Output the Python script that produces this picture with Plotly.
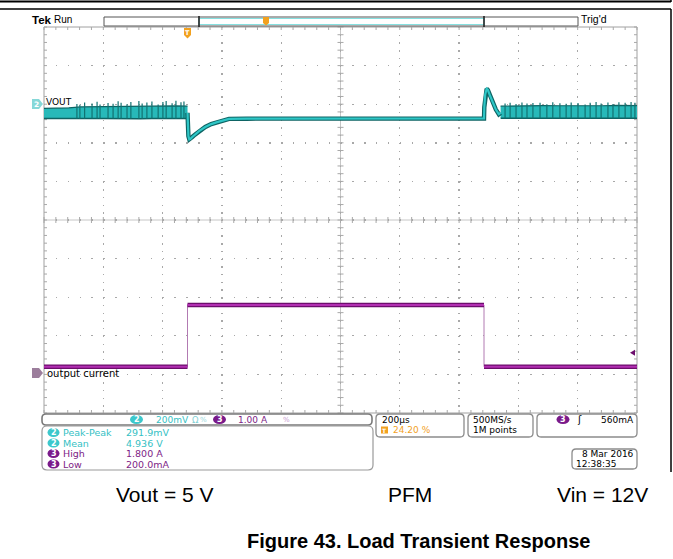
import numpy as np
import plotly.graph_objects as go

# ---------------- acquisition settings ----------------
# Horizontal 200 us/div, trigger at 24.2 % of the 10-division record
time_range_us = [-484, 1516]
# CH2 (VOUT) 200 mV/div, CH3 (output current) 1 A/div, 10 divisions each
vout_range_v = [3.4, 5.4]
iout_range_a = [-1.0, 9.0]
trigger_level_a = 0.56

# ---------------- CH2 : VOUT ----------------
# light-load PFM ripple band before the load step (envelope, V)
band_pre_t = [-484, -440, -400, -360, -320, -280, -240, -200, -160, -120, -80, -40, 0]
band_pre_hi = [4.978, 4.979, 4.981, 4.986, 4.987, 4.988, 4.986, 4.989, 4.988, 4.990, 4.989, 4.991, 4.990]
band_pre_lo = [4.926, 4.925, 4.926, 4.925, 4.926, 4.926, 4.925, 4.926, 4.925, 4.926, 4.926, 4.925, 4.926]
spike_pre_t = [-373, -363, -347, -322, -305, -295, -268, -251, -234, -224, -204, -191,
               -164, -153, -137, -120, -99, -83, -72, -52, -39, -22, -12]
spike_pre_v = [5.001, 4.997, 5.009, 5.004, 5.013, 4.999, 5.006, 5.002, 5.015, 5.008, 5.000, 5.011,
               5.017, 5.003, 5.009, 5.014, 4.998, 5.012, 5.016, 5.005, 5.018, 5.010, 5.014]

# heavy-load section with undershoot / overshoot (V)
load_t = [0, 1, 3, 6, 10, 16, 25, 40, 60, 80, 100, 120, 130, 140, 200, 400, 600, 800,
          1000, 1001, 1004, 1009, 1013, 1020, 1030, 1040, 1050, 1056]
load_v = [4.955, 4.880, 4.835, 4.818, 4.821, 4.830, 4.842, 4.862, 4.882, 4.897, 4.907, 4.914,
          4.919, 4.924, 4.925, 4.925, 4.926, 4.926, 4.926, 4.985, 5.050, 5.080, 5.074, 5.045,
          5.005, 4.972, 4.948, 4.955]

# light-load ripple band after the load release (envelope, V)
band_post_t = [1056, 1100, 1150, 1200, 1250, 1300, 1350, 1400, 1450, 1516]
band_post_hi = [4.990, 4.992, 4.991, 4.993, 4.992, 4.991, 4.993, 4.992, 4.994, 4.993]
band_post_lo = [4.927, 4.927, 4.926, 4.927, 4.926, 4.927, 4.926, 4.927, 4.926, 4.927]
spike_post_t = [1071, 1088, 1108, 1128, 1145, 1165, 1189, 1212, 1232, 1256, 1277, 1294,
                1317, 1341, 1358, 1378, 1395, 1418, 1435, 1455, 1476, 1496, 1509]
spike_post_v = [5.003, 5.007, 5.001, 5.009, 5.004, 5.006, 5.008, 5.000, 5.010, 5.005, 5.002, 5.009,
                5.006, 4.999, 5.008, 5.011, 5.004, 5.009, 5.001, 5.010, 5.007, 5.011, 5.008]

# ---------------- CH3 : output current ----------------
cur_t = [-484, 0, 0, 1000, 1000, 1516]
cur_i = [0.2, 0.2, 1.8, 1.8, 0.2, 0.2]

# ---------------- readouts ----------------
meas_channels = [2, 2, 3, 3]
meas_labels = ["Peak-Peak", "Mean", "High", "Low"]
meas_values = ["291.9mV", "4.936 V", "1.800 A", "200.0mA"]
conditions = ["Vout = 5 V", "PFM", "Vin = 12V"]
caption = "Figure 43. Load Transient Response"

# ---------------- page geometry (px) ----------------
FW, FH = 673, 559
L, T, R, B = 44, 27, 637, 413
W, H = R - L, B - T
CX, CY = (L + R) / 2, (T + B) / 2

TEAL = "#2ec6c6"
TEAL_DK = "#0e6464"
TEAL_TXT = "#35bfc4"
PURP = "#b22fb2"
PURP_DK = "#6d0e6d"
PURP_TXT = "#7d1d86"
ORANGE = "#f2a11f"
SCOPE_FONT = "DejaVu Sans"


def px(x):
    return (x - L) / W


def py(y):
    return (B - y) / H


fig = go.Figure()

# ripple bands
for bt, blo, bhi in [(band_pre_t, band_pre_lo, band_pre_hi), (band_post_t, band_post_lo, band_post_hi)]:
    fig.add_trace(go.Scatter(x=bt, y=blo, mode="lines", line=dict(color=TEAL_DK, width=1.4),
                             yaxis="y", hoverinfo="skip"))
    fig.add_trace(go.Scatter(x=bt, y=bhi, mode="lines", line=dict(color=TEAL_DK, width=1.2),
                             fill="tonexty", fillcolor="#27b9b9", yaxis="y", hoverinfo="skip"))

# ripple bursts: dark streaks through the band up to each spike
for st, sv, bt, blo in [(spike_pre_t, spike_pre_v, band_pre_t, band_pre_lo),
                        (spike_post_t, spike_post_v, band_post_t, band_post_lo)]:
    base = np.interp(st, bt, blo)
    xs, ys = [], []
    for t, v, b in zip(st, sv, base):
        xs += [t, t, None]
        ys += [b, v, None]
    fig.add_trace(go.Scatter(x=xs, y=ys, mode="lines", line=dict(color="#127272", width=1.2),
                             yaxis="y", hoverinfo="skip"))

# heavy-load part of VOUT
fig.add_trace(go.Scatter(x=load_t, y=load_v, mode="lines", line=dict(color=TEAL_DK, width=4.4),
                         yaxis="y", hoverinfo="skip"))
fig.add_trace(go.Scatter(x=load_t, y=load_v, mode="lines", line=dict(color=TEAL, width=2.2),
                         yaxis="y", hoverinfo="skip"))

# output current: thin edges, bold levels
fig.add_trace(go.Scatter(x=cur_t, y=cur_i, mode="lines", line=dict(color="#b27ab2", width=1),
                         yaxis="y2", hoverinfo="skip"))
lx, ly = [], []
for i in range(len(cur_t) - 1):
    if cur_i[i] == cur_i[i + 1]:
        lx += [cur_t[i], cur_t[i + 1], None]
        ly += [cur_i[i], cur_i[i + 1], None]
fig.add_trace(go.Scatter(x=lx, y=ly, mode="lines", line=dict(color=PURP_DK, width=4.5),
                         yaxis="y2", hoverinfo="skip"))
fig.add_trace(go.Scatter(x=lx, y=ly, mode="lines", line=dict(color=PURP, width=2),
                         yaxis="y2", hoverinfo="skip"))

shapes = []
annots = []


def seg(x0, y0, x1, y1, color, width=1, dash=None, layer="above"):
    shapes.append(dict(type="line", xref="paper", yref="paper", x0=px(x0), y0=py(y0),
                       x1=px(x1), y1=py(y1), layer=layer,
                       line=dict(color=color, width=width, dash=dash)))


def poly(points, fill, line="rgba(0,0,0,0)", width=0):
    d = "M" + " L".join(f"{px(x)},{py(y)}" for x, y in points) + " Z"
    shapes.append(dict(type="path", xref="paper", yref="paper", path=d, fillcolor=fill,
                       line=dict(color=line, width=width)))


def rbox(x0, y0, x1, y1, r=4, color="#8c8c8c", width=1.3, fill="white"):
    pts = [f"M{px(x0 + r)},{py(y0)}", f"L{px(x1 - r)},{py(y0)}", f"Q{px(x1)},{py(y0)} {px(x1)},{py(y0 + r)}",
           f"L{px(x1)},{py(y1 - r)}", f"Q{px(x1)},{py(y1)} {px(x1 - r)},{py(y1)}",
           f"L{px(x0 + r)},{py(y1)}", f"Q{px(x0)},{py(y1)} {px(x0)},{py(y1 - r)}",
           f"L{px(x0)},{py(y0 + r)}", f"Q{px(x0)},{py(y0)} {px(x0 + r)},{py(y0)} Z"]
    shapes.append(dict(type="path", xref="paper", yref="paper", path=" ".join(pts),
                       fillcolor=fill, line=dict(color=color, width=width), layer="below"))


def txt(x, y, s, size, color, anchor="left", bold=False, family=SCOPE_FONT):
    if bold:
        s = f"<b>{s}</b>"
    annots.append(dict(x=px(x), y=py(y), xref="paper", yref="paper", text=s, showarrow=False,
                       xanchor=anchor, yanchor="middle", borderpad=0,
                       font=dict(family=family, size=size, color=color)))


def pill(cx, cy, num, color, w=13, h=9):
    shapes.append(dict(type="circle", xref="paper", yref="paper", x0=px(cx - w / 2), x1=px(cx + w / 2),
                       y0=py(cy + h / 2), y1=py(cy - h / 2), fillcolor=color, line=dict(width=0)))
    txt(cx, cy, str(num), 8, "white", anchor="center", bold=True)


# ---- graticule ----
GRID = "#a8a8a8"
shapes.append(dict(type="rect", xref="paper", yref="paper", x0=0, y0=0, x1=1, y1=1,
                   line=dict(color="#a0a0a0", width=1), layer="below"))
seg(L, CY, R, CY, "#c6c6c6", 1, layer="below")
seg(CX, T, CX, B, "#c6c6c6", 1, layer="below")
tick_d = []
for k in range(51):
    x = L + k * W / 50
    tick_d.append(((x, T), (x, T + 3)))
    tick_d.append(((x, B), (x, B - 3)))
    tick_d.append(((x, CY - 3), (x, CY + 3)))
    y = T + k * H / 50
    tick_d.append(((L, y), (L + 3, y)))
    tick_d.append(((R, y), (R - 3, y)))
    tick_d.append(((CX - 3, y), (CX + 3, y)))
path = " ".join(f"M{px(a[0])},{py(a[1])} L{px(b[0])},{py(b[1])}" for a, b in tick_d)
shapes.append(dict(type="path", xref="paper", yref="paper", path=path, layer="below",
                   line=dict(color=GRID, width=1)))

# ---- page frame ----
seg(0, 1.5, 671, 1.5, "black", 2)
seg(671, 0, 671, 2, "black", 1.5)
seg(0, 9, 671, 9, "black", 1.5)
seg(671, 9, 671, 472, "black", 1.5)

# ---- header: Tek Run / record view / Trig'd ----
txt(31, 20, "Tek", 11.5, "black", bold=True, family="Liberation Sans")
txt(53, 20, "Run", 10, "black", family="Liberation Sans")
shapes.append(dict(type="rect", xref="paper", yref="paper", x0=px(104), x1=px(578), y0=py(26), y1=py(17),
                   fillcolor="white", line=dict(color="#555555", width=1)))
shapes.append(dict(type="rect", xref="paper", yref="paper", x0=px(199), x1=px(484), y0=py(24.5), y1=py(18.5),
                   line=dict(color="#86e0e0", width=1.2)))
seg(199, 16, 199, 27, "#222222", 1.6)
seg(484, 16, 484, 27, "#222222", 1.6)
poly([(263, 17), (269, 17), (269, 23), (266, 25.5), (263, 23)], ORANGE)
txt(580, 19.5, "Trig'd", 10.5, "black", family="Liberation Sans")

# trigger position marker
poly([(184, 28), (191, 28), (191, 35), (187.5, 38.5), (184, 35)], ORANGE)
txt(187.5, 32.5, "T", 6.5, "white", anchor="center", bold=True)

# channel markers
poly([(32, 99), (39, 99), (43, 104), (39, 109), (32, 109)], "#86d8d8")
txt(36, 104, "2", 7.5, "white", anchor="center", bold=True)
txt(45, 102, "VOUT", 9, "black", family=SCOPE_FONT)
poly([(32, 368), (39, 368), (43, 373), (39, 378), (32, 378)], "#9c7e9c")
txt(46, 373.5, "output current", 10, "black")
y_trig = B - (trigger_level_a - iout_range_a[0]) / (iout_range_a[1] - iout_range_a[0]) * H
poly([(630, y_trig), (635, y_trig - 3), (635, y_trig + 3)], PURP_DK)

# ---- lower readout panel ----
PF = 9
rbox(42, 414, 372, 425, r=4, color="#7a7a7a", width=1.6)
pill(136.5, 419.5, 2, "#3cc8cc")
txt(155, 419.5, "200mV", PF, TEAL_TXT)
txt(191, 419.5, "Ω", 8.5, "#7fd0d4")
txt(199, 419.5, "%", 7, "#9ad8dc")
pill(219.5, 419.5, 3, "#7a1a8a")
txt(237, 419.5, "1.00 A", PF, PURP_TXT)
txt(282, 419.5, "%", 7, "#c79ad0")

rbox(42, 426, 373, 470, r=5, color="#9a9a9a", width=1.2)
for i, (ch, lab, val) in enumerate(zip(meas_channels, meas_labels, meas_values)):
    yy = 432.5 + i * 10.5
    col = TEAL_TXT if ch == 2 else PURP_TXT
    pill(53.5, yy, ch, "#3cc8cc" if ch == 2 else "#7a1a8a", w=12, h=9)
    txt(62, yy, lab, PF + 0.5, col)
    txt(125, yy, val, PF + 0.5, col)

rbox(376, 414, 464, 437, r=4)
txt(381, 419.5, "200µs", PF, "black")
shapes.append(dict(type="rect", xref="paper", yref="paper", x0=px(381), x1=px(388), y0=py(433.5),
                   y1=py(426.5), fillcolor=ORANGE, line=dict(width=0)))
txt(384.5, 430, "T", 6, "white", anchor="center", bold=True)
txt(392, 430, "24.20 %", PF, ORANGE)

rbox(468, 414, 533, 437, r=4)
txt(472, 419.5, "500MS/s", PF, "black")
txt(472, 430, "1M points", PF, "black")

rbox(537, 414, 637, 437, r=4)
pill(563, 419.5, 3, "#7a1a8a")
txt(579, 419.5, "ʃ", 10, "black", anchor="center")
txt(635, 419.5, "560mA", PF, "black", anchor="right")

rbox(572, 449, 637, 469, r=4)
txt(635, 454, "8 Mar 2016", PF, "black", anchor="right")
txt(575, 464, "12:38:35", PF, "black")

# ---- test conditions and caption ----
for s, xc in zip(conditions, [165, 410, 602]):
    txt(xc, 494, s, 21, "black", anchor="center", family="Liberation Sans")
txt(418, 541, caption, 20, "black", anchor="center", bold=True, family="Liberation Sans")

axis_common = dict(showticklabels=False, ticks="", zeroline=False, showline=False)
fig.update_layout(
    width=FW, height=FH, autosize=False,
    margin=dict(l=L, r=FW - R, t=T, b=FH - B, pad=0),
    paper_bgcolor="white", plot_bgcolor="white",
    showlegend=False, hovermode=False,
    xaxis=dict(range=time_range_us, showgrid=True, tick0=-84, dtick=200,
               gridcolor=GRID, gridwidth=1.4, griddash="1.4px,6.32px", **axis_common),
    yaxis=dict(range=vout_range_v, showgrid=True, tick0=3.4, dtick=0.2,
               gridcolor=GRID, gridwidth=1.4, griddash="1.4px,10.46px", **axis_common),
    yaxis2=dict(range=iout_range_a, overlaying="y", showgrid=False, **axis_common),
    shapes=shapes,
    annotations=annots,
)

fig.write_html("out.html", config={"staticPlot": True})
